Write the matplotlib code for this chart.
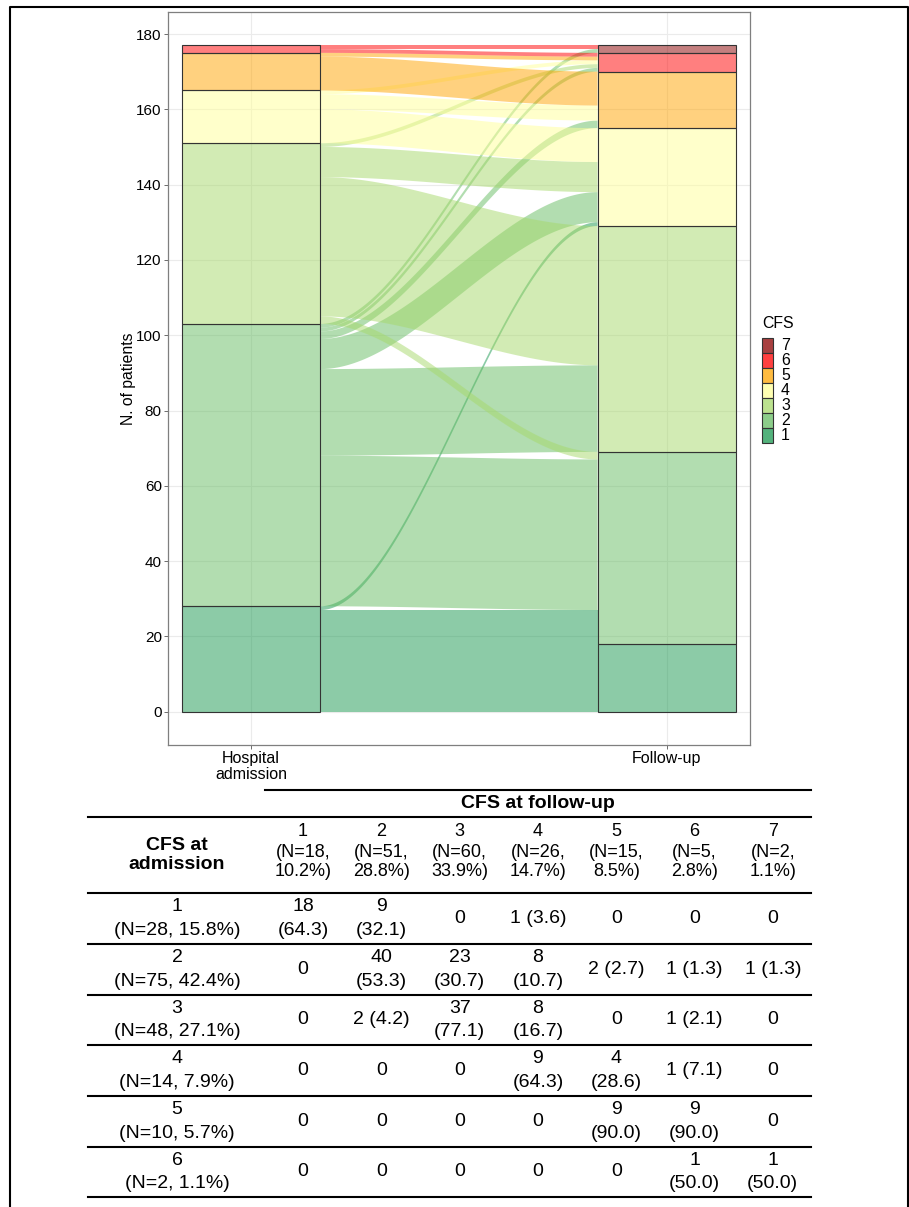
import numpy as np
import matplotlib
matplotlib.use('Agg')
import matplotlib.pyplot as plt
from matplotlib.patches import Rectangle, Polygon
from matplotlib.colors import to_rgba

plt.rcParams['font.family'] = ['Liberation Sans', 'DejaVu Sans']

W, H = 909, 1207

# CFS levels and their colours
cfs_levels = [1, 2, 3, 4, 5, 6, 7]
cfs_colors = ['#1a9850', '#66bd63', '#a6d96a', '#ffff99', '#ffa500', '#ff0000', '#8b0000']
stages = ['Hospital\nadmission', 'Follow-up']

# patients moving from admission CFS (rows 1-6) to follow-up CFS (cols 1-7)
flow_counts = [
    [18, 9, 0, 1, 0, 0, 0],
    [0, 40, 23, 8, 2, 1, 1],
    [0, 2, 37, 8, 0, 1, 0],
    [0, 0, 0, 9, 4, 1, 0],
    [0, 0, 0, 0, 9, 1, 0],
    [0, 0, 0, 0, 0, 1, 1],
]

# table as printed in the figure
table_counts = [
    [18, 9, 0, 1, 0, 0, 0],
    [0, 40, 23, 8, 2, 1, 1],
    [0, 2, 37, 8, 0, 1, 0],
    [0, 0, 0, 9, 4, 1, 0],
    [0, 0, 0, 0, 9, 9, 0],
    [0, 0, 0, 0, 0, 1, 1],
]
adm_n = [28, 75, 48, 14, 10, 2]
adm_pct = ['15.8', '42.4', '27.1', '7.9', '5.7', '1.1']
fu_n = [18, 51, 60, 26, 15, 5, 2]
fu_pct = ['10.2', '28.8', '33.9', '14.7', '8.5', '2.8', '1.1']


def px(x0, y0, x1, y1):
    # pixel box (top-left origin) -> figure fraction
    return [x0 / W, 1 - y1 / H, (x1 - x0) / W, (y1 - y0) / H]


fig = plt.figure(figsize=(W / 100, H / 100), dpi=100)

# ---- alluvial plot ----
ax = fig.add_axes(px(168, 12, 750, 745))
counts = np.array(flow_counts)
adm_tot = counts.sum(1)
fu_tot = counts.sum(0)
left_base = np.concatenate([[0], np.cumsum(adm_tot)[:-1]])
right_base = np.concatenate([[0], np.cumsum(fu_tot)[:-1]])
left_low = left_base[:, None] + np.cumsum(counts, 1) - counts
right_low = right_base[None, :] + np.cumsum(counts, 0) - counts

w = 1 / 3
xa, xb = 1 + w / 2, 2 - w / 2
t = np.linspace(0, 1, 120)
s = 3 * t ** 2 - 2 * t ** 3
xs = xa + (xb - xa) * t

for i in range(counts.shape[0]):
    for j in range(counts.shape[1]):
        c = counts[i, j]
        if c == 0:
            continue
        lo = left_low[i, j] + (right_low[i, j] - left_low[i, j]) * s
        hi = lo + c
        verts = np.vstack([np.column_stack([xs, hi]), np.column_stack([xs[::-1], lo[::-1]])])
        ax.add_patch(Polygon(verts, closed=True, facecolor=to_rgba(cfs_colors[i], 0.5),
                             edgecolor='none', zorder=2))

for k, tot in enumerate(adm_tot):
    ax.add_patch(Rectangle((1 - w / 2, left_base[k]), w, tot, facecolor=to_rgba(cfs_colors[k], 0.5),
                           edgecolor='#333333', lw=0.8, zorder=3))
for k, tot in enumerate(fu_tot):
    ax.add_patch(Rectangle((2 - w / 2, right_base[k]), w, tot, facecolor=to_rgba(cfs_colors[k], 0.5),
                           edgecolor='#333333', lw=0.8, zorder=3))

ax.set_xlim(0.8, 2.2)
ax.set_ylim(-8.85, 185.85)
ax.set_yticks(np.arange(0, 181, 20))
ax.set_xticks([1, 2])
ax.set_xticklabels(stages, linespacing=1.05, fontsize=11.5)
ax.tick_params(length=3, width=0.6, color='#555555', labelcolor='black', pad=1.5)
ax.tick_params(axis='y', labelsize=11)
ax.grid(color='#ebebeb', lw=0.8)
ax.set_axisbelow(True)
for sp in ax.spines.values():
    sp.set_color('#7f7f7f')
    sp.set_linewidth(0.9)
ax.set_ylabel('N. of patients', fontsize=11.3, labelpad=0)

# ---- overlay for legend, table and frame ----
ov = fig.add_axes([0, 0, 1, 1], facecolor='none')
ov.set_xlim(0, W)
ov.set_ylim(H, 0)
ov.axis('off')

ov.text(762, 323, 'CFS', fontsize=11.4, ha='left', va='center')
for k, lev in enumerate(cfs_levels[::-1]):
    top = 338 + k * 15
    ov.add_patch(Rectangle((762, top), 11, 15, facecolor=to_rgba(cfs_colors[lev - 1], 0.75),
                           edgecolor='#333333', lw=0.8))
    ov.text(781, top + 7.5, str(lev), fontsize=11.4, ha='left', va='center')

# table
fs = 14
fs_head = 13
lw_t = 1.5
col_x = [303 + k * 78.3 for k in range(7)]
row_lines = [893, 944, 995, 1045, 1096, 1147, 1197]

ov.plot([265, 811], [790, 790], color='black', lw=lw_t)
ov.plot([88, 811], [817, 817], color='black', lw=lw_t)
for y in row_lines:
    ov.plot([88, 811], [y, y], color='black', lw=lw_t)

ov.text(538, 803, 'CFS at follow-up', fontsize=fs, fontweight='bold', ha='center', va='center')
ov.text(177, 855, 'CFS at\nadmission', fontsize=fs, fontweight='bold', ha='center', va='center',
        linespacing=1.15)
for k, lev in enumerate(cfs_levels):
    ov.text(col_x[k], 831, str(lev), fontsize=fs_head, ha='center', va='center')
    ov.text(col_x[k], 862, f'(N={fu_n[k]},\n{fu_pct[k]}%)', fontsize=fs_head, ha='center',
            va='center', linespacing=1.2)

for i in range(len(adm_n)):
    yc = (row_lines[i] + row_lines[i + 1]) / 2
    ov.text(177, yc, f'{cfs_levels[i]}\n(N={adm_n[i]}, {adm_pct[i]}%)', fontsize=fs,
            ha='center', va='center', linespacing=1.5)
    for j in range(7):
        c = table_counts[i][j]
        if c == 0:
            txt = '0'
        else:
            txt = f'{c} ({100 * c / adm_n[i]:.1f})'
            if len(txt) > 7:
                txt = txt.replace(' ', '\n')
        ov.text(col_x[j], yc, txt, fontsize=fs, ha='center', va='center', linespacing=1.5)

# outer frame
ov.plot([10, 10, 908, 908], [H, 7, 7, H], color='black', lw=1.5)

fig.savefig('out.png', dpi=100)
